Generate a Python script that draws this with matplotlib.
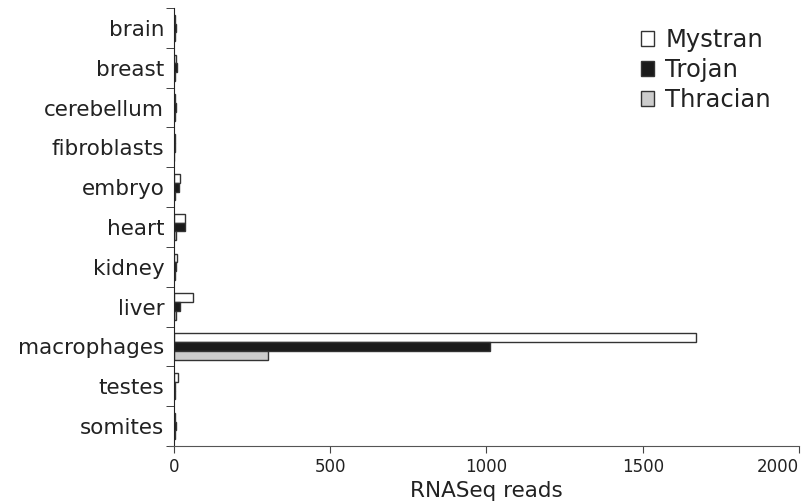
import matplotlib
matplotlib.use("Agg")
import matplotlib.pyplot as plt
import numpy as np

tissues = ["brain", "breast", "cerebellum", "fibroblasts", "embryo", "heart",
           "kidney", "liver", "macrophages", "testes", "somites"]
mystran = [4, 8, 4, 2, 20, 35, 10, 60, 1670, 12, 3]
trojan = [6, 10, 6, 3, 15, 35, 7, 18, 1010, 4, 7]
thracian = [3, 3, 2, 1, 3, 5, 2, 6, 300, 4, 2]

fig = plt.figure(figsize=(8.04, 5.01), dpi=100)
ax = fig.add_axes([174/804, 1 - 446/501, 625/804, 438/501])

y = np.arange(len(tissues))
h = 0.22
edge = "#333333"
ax.barh(y - h, mystran, h, color="white", edgecolor=edge, lw=1, label="Mystran")
ax.barh(y, trojan, h, color="#1a1a1a", edgecolor=edge, lw=1, label="Trojan")
ax.barh(y + h, thracian, h, color="#cccccc", edgecolor=edge, lw=1, label="Thracian")

ax.set_ylim(len(tissues) - 0.5, -0.5)
ax.set_xlim(0, 2000)
ax.set_yticks(y)
ax.set_yticklabels(tissues, fontsize=15.5, color="#222222")
ax.tick_params(axis="y", length=0, pad=7)
ax.set_yticks(np.arange(-0.5, len(tissues)), minor=True)
ax.tick_params(axis="y", which="minor", length=6, color="#222222")
ax.set_xticks([0, 500, 1000, 1500, 2000])
ax.tick_params(axis="x", labelsize=12, length=5, color="#444444", labelcolor="#222222")
ax.get_xticklabels()[-1].set_horizontalalignment("right")
ax.get_xticklabels()[-1].set_x(2000)
ax.set_xlabel("RNASeq reads", fontsize=15.5, color="#222222", labelpad=4)

for s in ["top", "right"]:
    ax.spines[s].set_visible(False)
ax.spines["left"].set_color("#222222")
ax.spines["bottom"].set_color("#555555")
ax.spines["bottom"].set_bounds(-16, 2000)

ax.legend(loc="upper left", bbox_to_anchor=(641/804, 1 - 28/501), bbox_transform=fig.transFigure,
          frameon=False, fontsize=17.5, handlelength=0.55, handleheight=0.55,
          handletextpad=0.45, labelspacing=0.25, borderaxespad=0, borderpad=0,
          labelcolor="#222222")

fig.savefig("out.png", dpi=100)
